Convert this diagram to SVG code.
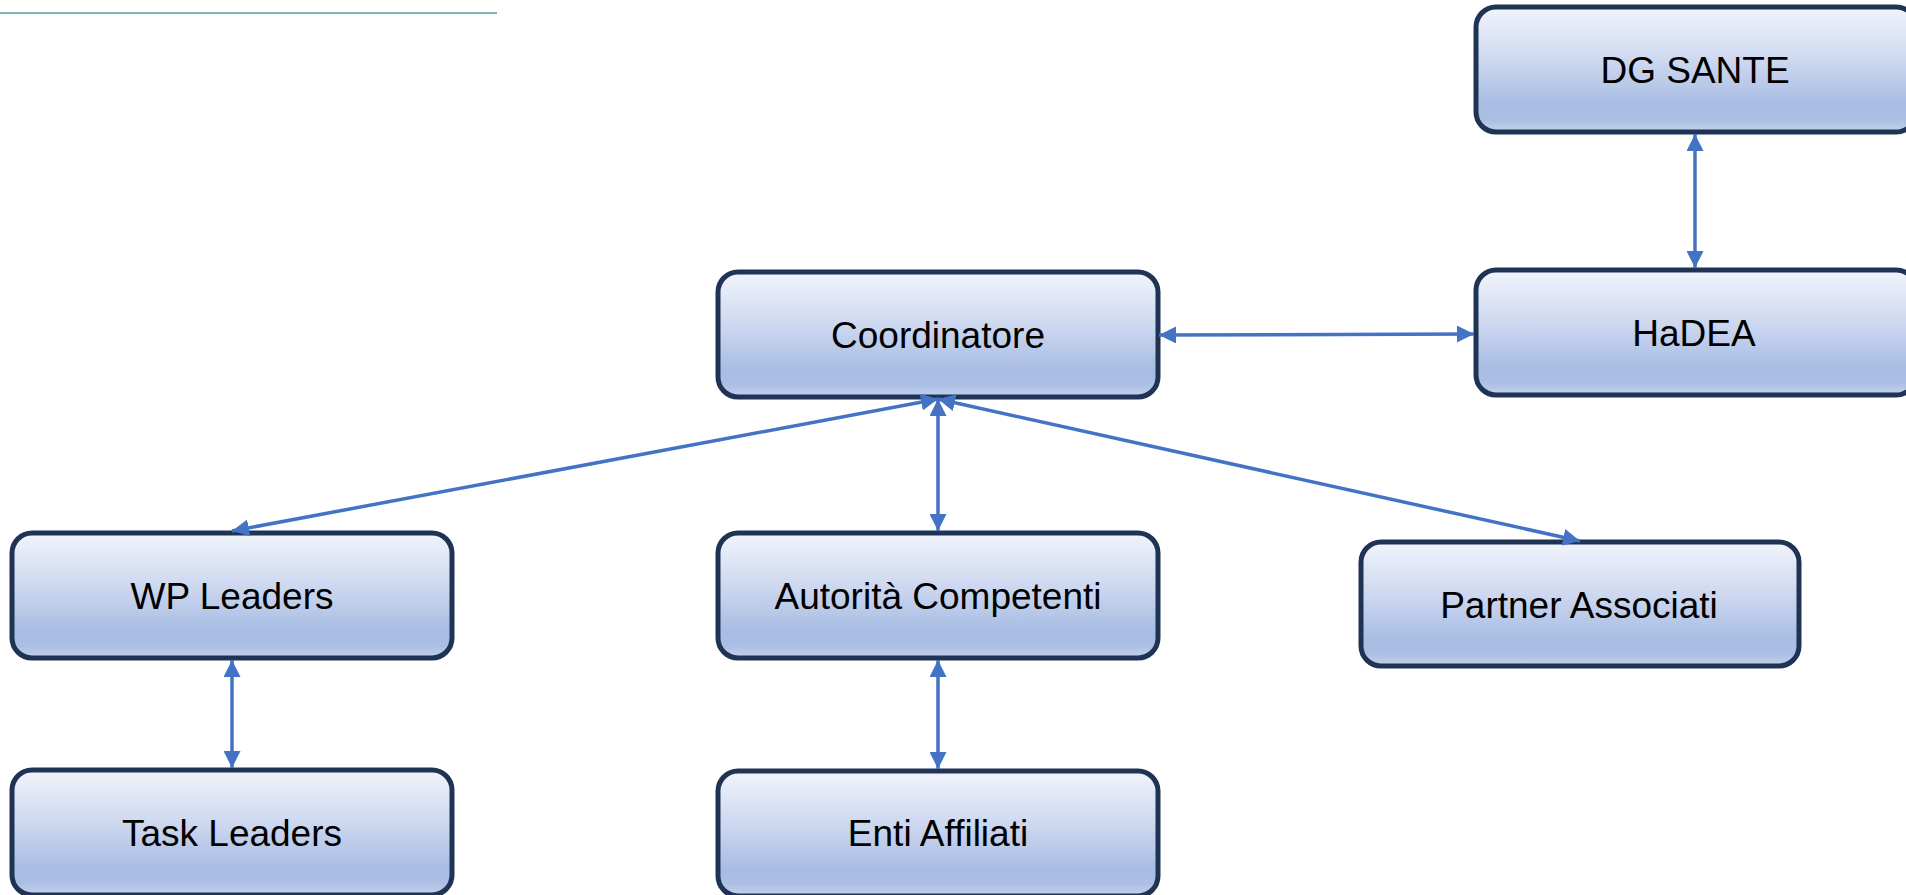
<svg xmlns="http://www.w3.org/2000/svg" width="1906" height="895" viewBox="0 0 1906 895">
  <defs>
    <linearGradient id="boxGrad" x1="0" y1="0" x2="0" y2="1">
      <stop offset="0" stop-color="#F1F4FB"/>
      <stop offset="0.45" stop-color="#CBD6EF"/>
      <stop offset="0.78" stop-color="#A8BDE3"/>
      <stop offset="0.9" stop-color="#ABBFE4"/>
      <stop offset="1" stop-color="#C4D2EC"/>
    </linearGradient>
    <marker id="arrow" markerUnits="userSpaceOnUse" markerWidth="17" markerHeight="17" refX="17" refY="8.5" orient="auto-start-reverse" viewBox="0 0 17 17">
      <path d="M0,0 L17,8.5 L0,17 z" fill="#4472C4"/>
    </marker>
  </defs>
  <style>
    .box { fill: url(#boxGrad); stroke: #1F3354; stroke-width: 5; }
    .label { font-family: "Liberation Sans", Arial, sans-serif; font-size: 37px; fill: #000000; text-anchor: middle; }
    .conn { stroke: #4472C4; stroke-width: 3.5; fill: none; marker-start: url(#arrow); marker-end: url(#arrow); }
  </style>
  <rect width="1906" height="895" fill="#FFFFFF"/>
  <line x1="0" y1="13" x2="497" y2="13" stroke="#84B4B2" stroke-width="2"/>

  <g id="dg-sante">
    <rect class="box" x="1476" y="7" width="440" height="125" rx="20" ry="20"/>
    <text class="label" x="1695" y="83">DG SANTE</text>
  </g>
  <g id="hadea">
    <rect class="box" x="1476" y="270" width="440" height="125" rx="20" ry="20"/>
    <text class="label" x="1694" y="346">HaDEA</text>
  </g>
  <g id="coordinatore">
    <rect class="box" x="718" y="272" width="440" height="125" rx="20" ry="20"/>
    <text class="label" x="938" y="348">Coordinatore</text>
  </g>
  <g id="wp-leaders">
    <rect class="box" x="12" y="533" width="440" height="125" rx="20" ry="20"/>
    <text class="label" x="232" y="609">WP Leaders</text>
  </g>
  <g id="autorita-competenti">
    <rect class="box" x="718" y="533" width="440" height="125" rx="20" ry="20"/>
    <text class="label" x="938" y="609">Autorità Competenti</text>
  </g>
  <g id="partner-associati">
    <rect class="box" x="1361" y="542" width="438" height="124" rx="20" ry="20"/>
    <text class="label" x="1579" y="618">Partner Associati</text>
  </g>
  <g id="task-leaders">
    <rect class="box" x="12" y="770" width="440" height="125" rx="20" ry="20"/>
    <text class="label" x="232" y="846">Task Leaders</text>
  </g>
  <g id="enti-affiliati">
    <rect class="box" x="718" y="771" width="440" height="125" rx="20" ry="20"/>
    <text class="label" x="938" y="846">Enti Affiliati</text>
  </g>

  <g id="connectors">
    <line class="conn" x1="1159" y1="335" x2="1474" y2="334"/>
    <line class="conn" x1="1695" y1="134" x2="1695" y2="268"/>
    <line class="conn" x1="938" y1="399" x2="232" y2="531"/>
    <line class="conn" x1="938" y1="399" x2="938" y2="531"/>
    <line class="conn" x1="938" y1="399" x2="1580" y2="541"/>
    <line class="conn" x1="232" y1="660" x2="232" y2="768"/>
    <line class="conn" x1="938" y1="660" x2="938" y2="769"/>
  </g>
</svg>
